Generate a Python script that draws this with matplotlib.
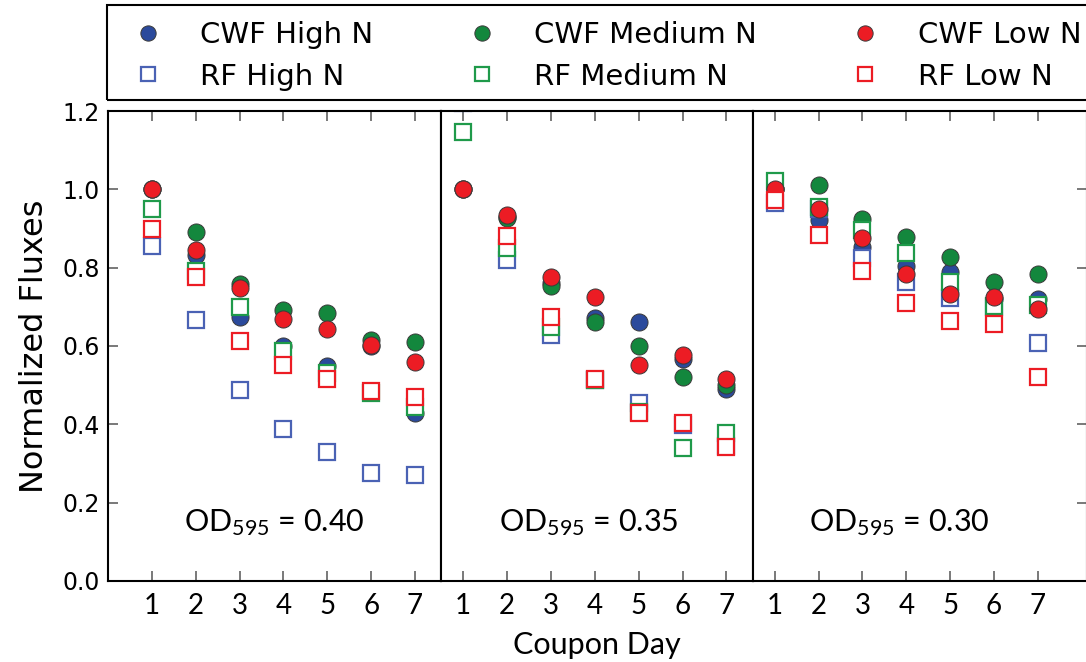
import numpy as np
import matplotlib
matplotlib.use("Agg")
import matplotlib.pyplot as plt
from matplotlib.lines import Line2D
from matplotlib.patches import Rectangle

plt.rcParams['mathtext.default'] = 'regular'
narrow = ['Lato', 'DejaVu Sans']

days = [1, 2, 3, 4, 5, 6, 7]
od_labels = ['0.40', '0.35', '0.30']

# normalized flux per coupon day, one list per OD595 panel
cwf_high = [
    [1.00, 0.832, 0.675, 0.600, 0.549, 0.600, 0.429],
    [1.00, 0.930, 0.760, 0.671, 0.662, 0.566, 0.489],
    [1.00, 0.922, 0.852, 0.804, 0.790, 0.720, 0.719],
]
cwf_med = [
    [1.00, 0.892, 0.758, 0.692, 0.683, 0.615, 0.611],
    [1.00, 0.928, 0.753, 0.660, 0.601, 0.522, 0.500],
    [1.00, 1.011, 0.923, 0.879, 0.826, 0.764, 0.784],
]
cwf_low = [
    [1.00, 0.845, 0.747, 0.668, 0.643, 0.602, 0.560],
    [1.00, 0.934, 0.775, 0.726, 0.551, 0.577, 0.515],
    [1.00, 0.951, 0.875, 0.783, 0.734, 0.724, 0.694],
]
rf_high = [
    [0.855, 0.666, 0.488, 0.387, 0.330, 0.275, 0.271],
    [1.220, 0.819, 0.628, 0.513, 0.454, 0.399, 0.345],
    [0.965, 0.950, 0.824, 0.764, 0.722, 0.700, 0.607],
]
rf_med = [
    [0.951, 0.791, 0.700, 0.588, 0.530, 0.480, 0.443],
    [1.147, 0.849, 0.649, 0.512, 0.432, 0.339, 0.379],
    [1.022, 0.956, 0.896, 0.838, 0.764, 0.703, 0.705],
]
rf_low = [
    [0.899, 0.775, 0.614, 0.551, 0.516, 0.486, 0.469],
    [np.nan, 0.881, 0.673, 0.515, 0.430, 0.403, 0.343],
    [0.973, 0.883, 0.791, 0.711, 0.665, 0.655, 0.522],
]

blue, blue_sq = '#2b4a9c', '#4a62b4'
green, green_sq = '#13873d', '#1f9a4a'
red, red_sq = '#ec1c24', '#ec1c24'

series = [
    ('CWF High N', cwf_high, 'o', blue, blue),
    ('RF High N', rf_high, 's', blue_sq, None),
    ('CWF Medium N', cwf_med, 'o', green, green),
    ('RF Medium N', rf_med, 's', green_sq, None),
    ('CWF Low N', cwf_low, 'o', red, red),
    ('RF Low N', rf_low, 's', red_sq, None),
]

fig = plt.figure(figsize=(10.86, 6.62), dpi=100)
gs = fig.add_gridspec(1, 3, width_ratios=[7.6, 7.1, 7.62], wspace=0,
                      left=0.0994, right=1.0009, bottom=0.1224, top=0.8323)
axes = [fig.add_subplot(gs[0, i]) for i in range(3)]
xlims = [(0, 7.6), (0.5, 7.6), (0.5, 8.12)]

for i, ax in enumerate(axes):
    for name, data, mk, col, face in series:
        if mk == 'o':
            ax.plot(days, data[i], 'o', ms=12.3, mfc=face, mec='#3a3a3a',
                    mew=0.7, ls='none')
        else:
            ax.plot(days, data[i], 's', ms=11.0, mfc='white', mec=col,
                    mew=1.6, ls='none')
    ax.set_xlim(*xlims[i])
    ax.set_ylim(0, 1.2)
    ax.set_xticks(days)
    ax.set_xticklabels([str(d) for d in days], family=narrow, fontsize=20)
    ax.tick_params(axis='x', direction='in', top=True, bottom=True,
                   length=7, width=1.1, color='#555555', pad=9)
    ax.tick_params(axis='y', direction='in', left=False, right=False,
                   length=7, width=1.1, color='#555555', labelleft=False)
    for s in ax.spines.values():
        s.set_linewidth(1.5)
    ax.text(3.8 if i == 0 else 3.85, 0.15,
            r'$\mathregular{OD_{595}}$ = ' + od_labels[i],
            family=narrow, fontsize=22, ha='center', va='center')

axes[0].set_yticks(np.arange(0, 1.21, 0.2))
axes[0].tick_params(axis='y', left=True, labelleft=True, labelsize=17, pad=6)
axes[0].set_ylabel('Normalized Fluxes', fontsize=23, labelpad=9)
axes[2].set_yticks(np.arange(0, 1.21, 0.2))
axes[2].tick_params(axis='y', right=True, labelright=False)
axes[1].set_xlabel('Coupon Day', family=narrow, fontsize=22, labelpad=8)

# legend: framed box with three columns of two entries
fig.patches.append(Rectangle((107 / 1086, 1 - 100 / 662), 1.0, 95 / 662,
                             transform=fig.transFigure, fill=False,
                             ec='black', lw=1.5))
col_x = [113 / 1086, 447 / 1086, 830 / 1086]
for k in range(3):
    handles, labels = [], []
    for name, data, mk, col, face in series[2 * k:2 * k + 2]:
        if mk == 'o':
            h = Line2D([], [], marker='o', ms=11, mfc=face, mec='#3a3a3a',
                       mew=0.7, ls='none')
        else:
            h = Line2D([], [], marker='s', ms=9.5, mfc='white', mec=col,
                       mew=1.6, ls='none')
        handles.append(h)
        labels.append(name)
    fig.legend(handles, labels, loc='upper left',
               bbox_to_anchor=(col_x[k], 1 - 15 / 662), frameon=False,
               fontsize=21, handlelength=2.0, handletextpad=0.8,
               labelspacing=0.47, borderpad=0.2, borderaxespad=0,
               numpoints=1)

fig.savefig('out.png', dpi=100)
